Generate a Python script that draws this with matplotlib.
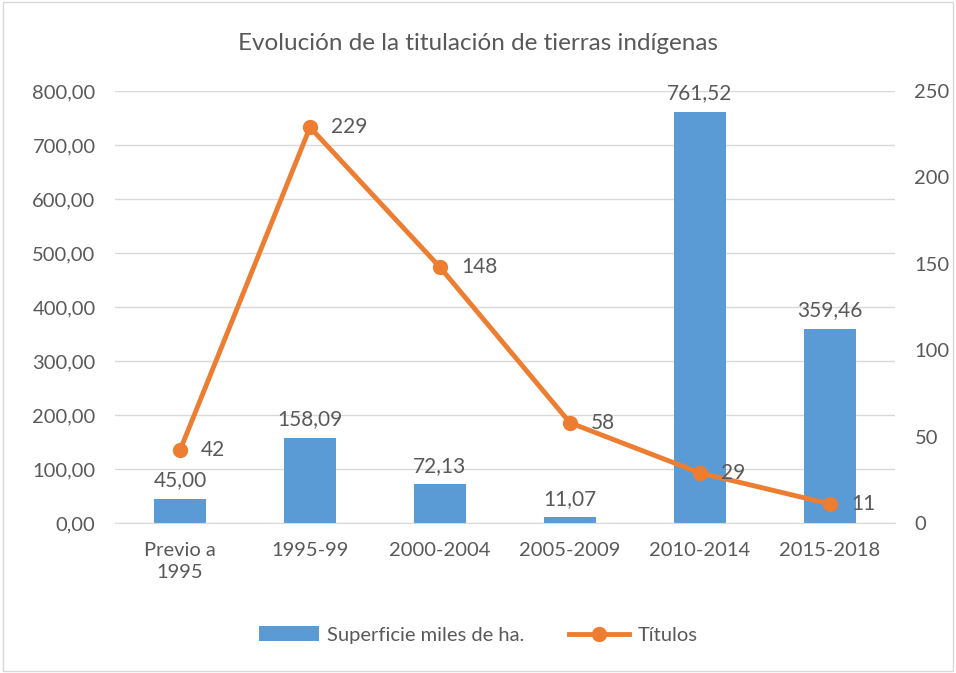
import matplotlib
matplotlib.use("Agg")
import matplotlib.pyplot as plt
from matplotlib.patches import Rectangle

categories = ["Previo a\n1995", "1995-99", "2000-2004", "2005-2009", "2010-2014", "2015-2018"]
superficie = [45.00, 158.09, 72.13, 11.07, 761.52, 359.46]
titulos = [42, 229, 148, 58, 29, 11]
left_ticks = [0, 100, 200, 300, 400, 500, 600, 700, 800]
right_ticks = [0, 50, 100, 150, 200, 250]

plt.rcParams['font.family'] = ['Lato', 'DejaVu Sans']
txt = '#595959'
bar_c = '#5B9BD5'
line_c = '#ED7D31'

fig = plt.figure(figsize=(9.56, 6.73), dpi=100)
fig.patches.append(Rectangle((0.003, 0.003), 0.994, 0.994, transform=fig.transFigure,
                             fill=False, edgecolor='#D9D9D9', linewidth=1))
ax = fig.add_axes([115/956, 1-523/673, 780/956, 432/673])
x = list(range(len(categories)))
bars = ax.bar(x, superficie, width=0.4, color=bar_c, zorder=2, label='Superficie miles de ha.')
ax.set_ylim(0, 800)
ax.set_xlim(-0.5, len(categories)-0.5)
ax.set_yticks(left_ticks)
ax.set_yticklabels([f"{v:.2f}".replace('.', ',') for v in left_ticks])
ax.grid(axis='y', color='#D9D9D9', linewidth=1, zorder=0)
for s in ['top', 'right', 'left']:
    ax.spines[s].set_visible(False)
ax.spines['bottom'].set_color('#D9D9D9')
ax.tick_params(axis='y', length=0, labelsize=14.5, colors=txt, pad=14)
ax.tick_params(axis='x', length=0, labelsize=14.5, colors=txt, pad=14)
ax.set_xticks(x)
ax.set_xticklabels(categories, linespacing=1.3)
for xi, v in zip(x, superficie):
    ax.annotate(f"{v:.2f}".replace('.', ','), (xi, v), xytext=(0, 6), textcoords='offset points',
                ha='center', va='bottom', fontsize=15, color=txt)

ax2 = ax.twinx()
ax2.plot(x, titulos, color=line_c, linewidth=3.5, marker='o', markersize=10, zorder=3, label='Títulos')
ax2.set_ylim(0, 250)
ax2.set_yticks(right_ticks)
for s in ['top', 'right', 'left', 'bottom']:
    ax2.spines[s].set_visible(False)
ax2.tick_params(axis='y', length=0, labelsize=14.5, colors=txt, pad=14)
for xi, v in zip(x, titulos):
    ax2.annotate(str(v), (xi, v), xytext=(15, 0), textcoords='offset points',
                 ha='left', va='center', fontsize=15, color=txt)

fig.text(0.5, 1-43/673, "Evolución de la titulación de tierras indígenas", ha='center', va='center',
         fontsize=17.5, color=txt)

h1, l1 = ax.get_legend_handles_labels()
h2, l2 = ax2.get_legend_handles_labels()
fig.legend(h1+h2, l1+l2, loc='center', bbox_to_anchor=(0.5, 1-635/673), ncol=2, frameon=False,
           fontsize=14.5, labelcolor=txt, handlelength=3.0, handletextpad=0.4, columnspacing=2.2)
fig.savefig("out.png", dpi=100)
